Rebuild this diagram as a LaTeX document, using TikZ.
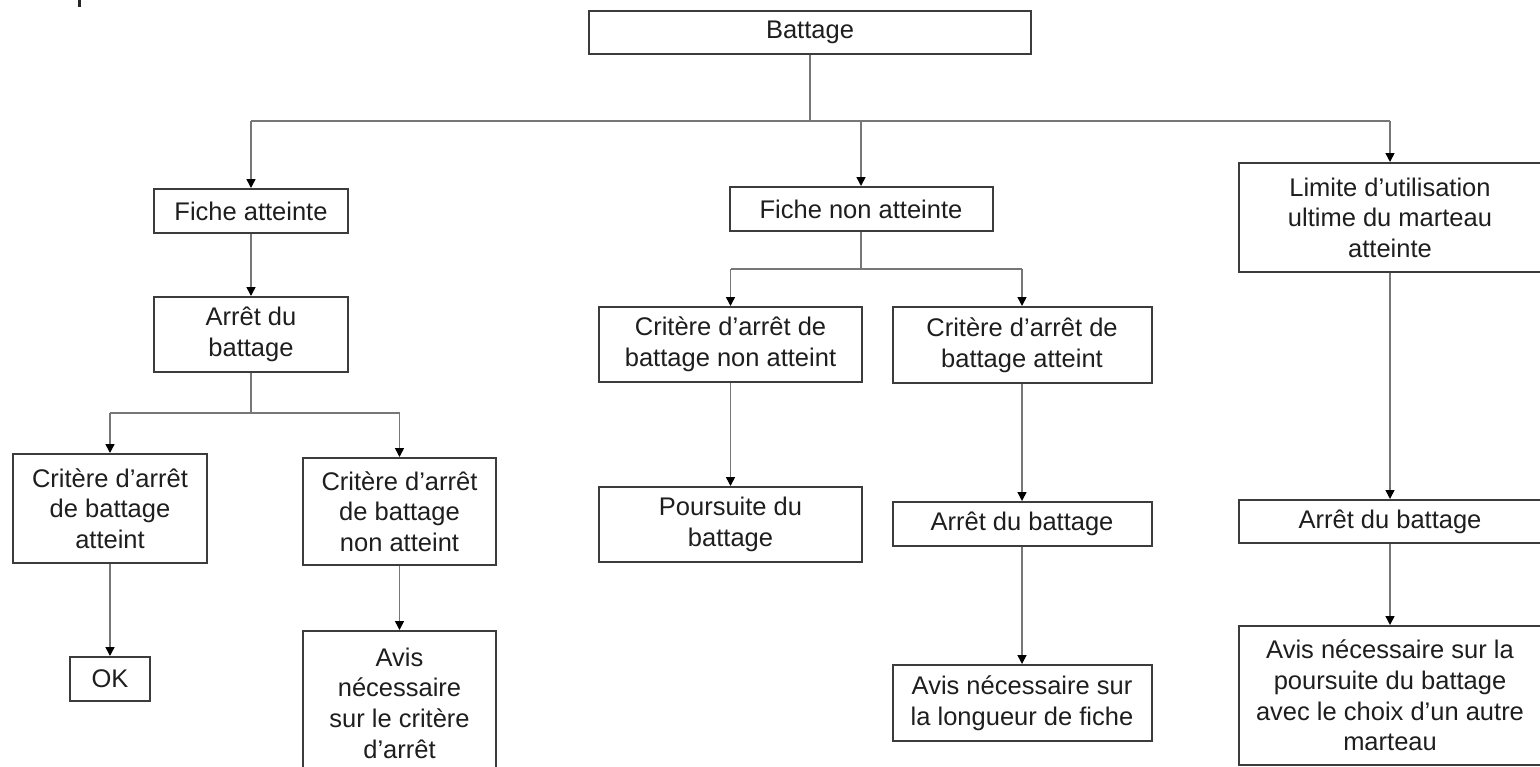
\documentclass[tikz,border=0pt]{standalone}
\usepackage{fontspec}
\setmainfont{Liberation Sans}
\usetikzlibrary{arrows.meta,calc}
\definecolor{boxc}{HTML}{3C3C3C}
\definecolor{connc}{HTML}{777777}
\definecolor{txtc}{HTML}{1E1E1E}
\tikzset{
  box/.style={draw=boxc, line width=1pt, fill=white, inner sep=0pt, align=center,
    text=txtc, font=\fontsize{12.75}{15.3}\selectfont},
  conn/.style={draw=connc, line width=0.75pt},
  arr/.style={conn, -{Triangle[width=4.5pt,length=4.5pt,color=black]}, shorten >=0pt}
}
\begin{document}
\begin{tikzpicture}[x=0.5pt,y=-0.5pt]
\useasboundingbox (0,0) rectangle (1540,766);
\fill[white] (0,0) rectangle (1540,766);
\begin{scope}
\clip (0,0) rectangle (1540,766);
% fragment at top left
\fill[black!85] (78,0) rectangle (81,7);
% nodes
\node[box, minimum width=221pt, minimum height=21.5pt] (bat) at (810,32.5) {Battage};
\node[box, minimum width=97pt, minimum height=22pt] (fa) at (251,211) {Fiche atteinte};
\node[box, minimum width=97pt, minimum height=37.5pt] (arL) at (251,334.5) {Arrêt du\\battage};
\node[box, minimum width=97pt, minimum height=54.5pt] (cL1) at (110,508.5) {Critère d’arrêt\\de battage\\atteint};
\node[box, minimum width=40pt, minimum height=22pt] (ok) at (110,679) {OK};
\node[box, minimum width=96.5pt, minimum height=53.5pt] (cL2) at (399.5,511.5) {Critère d’arrêt\\de battage\\non atteint};
\node[box, minimum width=96.5pt, minimum height=72pt] (avL) at (399.5,703) {Avis\\nécessaire\\sur le critère\\d’arrêt};
\node[box, minimum width=131.5pt, minimum height=22pt] (fna) at (861,209) {Fiche non atteinte};
\node[box, minimum width=131.5pt, minimum height=37.5pt] (cM1) at (730.5,344.5) {Critère d’arrêt de\\battage non atteint};
\node[box, minimum width=131.5pt, minimum height=37.5pt] (po) at (730.5,524.5) {Poursuite du\\battage};
\node[box, minimum width=129.5pt, minimum height=38pt] (cM2) at (1022,345) {Critère d’arrêt de\\battage atteint};
\node[box, minimum width=129.5pt, minimum height=22pt] (arM) at (1022,524) {Arrêt du battage};
\node[box, minimum width=129.5pt, minimum height=38pt] (avM) at (1022,703) {Avis nécessaire sur\\la longueur de fiche};
\node[box, minimum width=151pt, minimum height=54.5pt] (lim) at (1390,217.5) {Limite d’utilisation\\ultime du marteau\\atteinte};
\node[box, minimum width=151pt, minimum height=21.5pt] (arR) at (1390,521.5) {Arrêt du battage};
\node[box, minimum width=151pt, minimum height=69.5pt] (avR) at (1390,695.5) {Avis nécessaire sur la\\poursuite du battage\\avec le choix d’un autre\\marteau};
% bus coordinates
\coordinate (tb) at (0,121);
\coordinate (lb) at (0,413);
\coordinate (mb) at (0,269);
% top level
\draw[conn] (bat.south) -- (bat.south |- tb);
\draw[conn] (tb -| fa.north) -- (tb -| lim.north);
\draw[arr] (tb -| fa.north) -- (fa.north);
\draw[arr] (tb -| fna.north) -- (fna.north);
\draw[arr] (tb -| lim.north) -- (lim.north);
% left branch
\draw[arr] (fa.south) -- (arL.north);
\draw[conn] (arL.south) -- (arL.south |- lb);
\draw[conn] (lb -| cL1.north) -- (lb -| cL2.north);
\draw[arr] (lb -| cL1.north) -- (cL1.north);
\draw[arr] (lb -| cL2.north) -- (cL2.north);
\draw[arr] (cL1.south) -- (ok.north);
\draw[arr] (cL2.south) -- (avL.north);
% middle branch
\draw[conn] (fna.south) -- (fna.south |- mb);
\draw[conn] (mb -| cM1.north) -- (mb -| cM2.north);
\draw[arr] (mb -| cM1.north) -- (cM1.north);
\draw[arr] (mb -| cM2.north) -- (cM2.north);
\draw[arr] (cM1.south) -- (po.north);
\draw[arr] (cM2.south) -- (arM.north);
\draw[arr] (arM.south) -- (avM.north);
% right branch
\draw[arr] (lim.south) -- (arR.north);
\draw[arr] (arR.south) -- (avR.north);
\end{scope}
\end{tikzpicture}
\end{document}
